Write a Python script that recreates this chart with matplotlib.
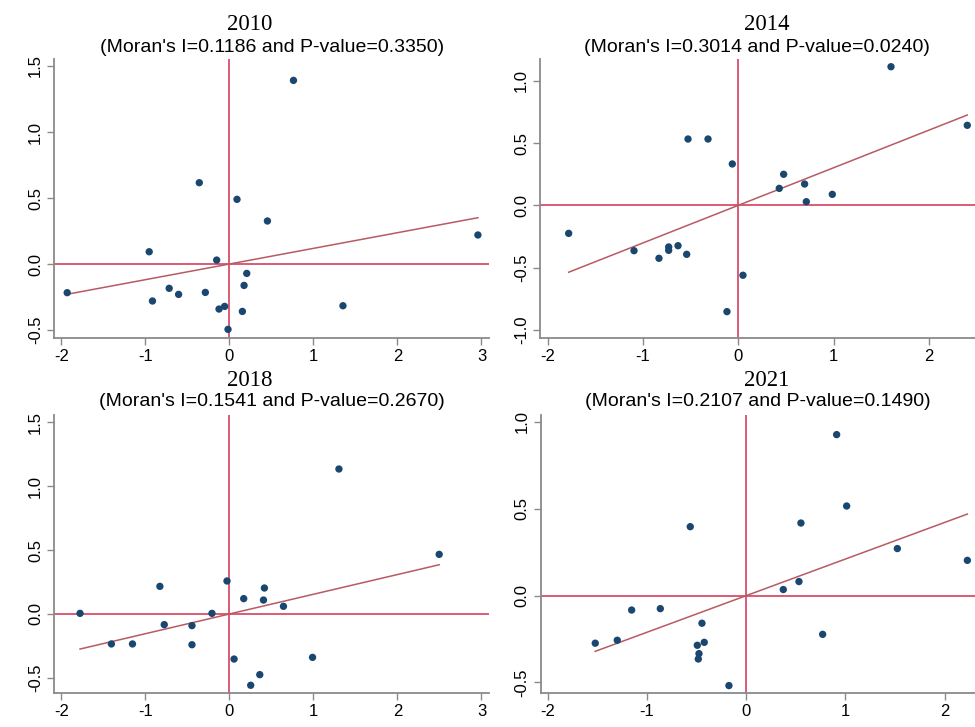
import numpy as np
import matplotlib.pyplot as plt

# --- data (standardised value vs spatial lag) ---
years = ['2010', '2014', '2018', '2021']
moran_i = [0.1186, 0.3014, 0.1541, 0.2107]
p_values = [0.3350, 0.0240, 0.2670, 0.1490]

x_2010 = [-1.93, -0.954, -0.915, -0.716, -0.604, -0.358, -0.286, -0.151, -0.123, -0.056,
          -0.016, 0.091, 0.155, 0.175, 0.207, 0.453, 0.763, 1.352, 2.958]
y_2010 = [-0.217, 0.093, -0.28, -0.184, -0.23, 0.616, -0.215, 0.03, -0.341, -0.321,
          -0.495, 0.49, -0.359, -0.162, -0.071, 0.326, 1.391, -0.316, 0.22]

x_2014 = [-1.781, -1.095, -0.833, -0.731, -0.731, -0.633, -0.542, -0.528, -0.318, -0.119,
          -0.063, 0.049, 0.430, 0.476, 0.696, 0.714, 0.987, 1.603, 2.404]
y_2014 = [-0.225, -0.364, -0.425, -0.334, -0.361, -0.324, -0.393, 0.532, 0.532, -0.853,
          0.332, -0.561, 0.136, 0.249, 0.171, 0.029, 0.088, 1.112, 0.642]

x_2018 = [-1.777, -1.404, -1.153, -0.827, -0.775, -0.445, -0.445, -0.207, -0.028, 0.056,
          0.171, 0.254, 0.362, 0.406, 0.417, 0.644, 0.990, 1.304, 2.497]
y_2018 = [0.005, -0.234, -0.234, 0.216, -0.083, -0.091, -0.240, 0.005, 0.258, -0.352,
          0.120, -0.557, -0.474, 0.109, 0.203, 0.060, -0.339, 1.133, 0.466]

x_2021 = [-1.523, -1.301, -1.156, -0.867, -0.565, -0.494, -0.477, -0.484, -0.447, -0.424,
          -0.175, 0.373, 0.531, 0.551, 0.770, 0.911, 1.012, 1.523, 2.229]
y_2021 = [-0.274, -0.257, -0.083, -0.075, 0.397, -0.286, -0.334, -0.365, -0.159, -0.269,
          -0.518, 0.035, 0.081, 0.418, -0.223, 0.927, 0.516, 0.271, 0.203]

xs = [x_2010, x_2014, x_2018, x_2021]
ys = [y_2010, y_2014, y_2018, y_2021]

xticks = [[-2, -1, 0, 1, 2, 3], [-2, -1, 0, 1, 2], [-2, -1, 0, 1, 2, 3], [-2, -1, 0, 1, 2]]
yticks = [[-0.5, 0.0, 0.5, 1.0, 1.5], [-1.0, -0.5, 0.0, 0.5, 1.0],
          [-0.5, 0.0, 0.5, 1.0, 1.5], [-0.5, 0.0, 0.5, 1.0]]
xlims = [(-2.087, 3.09), (-2.082, 2.485), (-2.087, 3.09), (-2.073, 2.306)]
ylims = [(-0.558, 1.553), (-1.062, 1.174), (-0.615, 1.555), (-0.559, 1.040)]

# --- layout in pixels (left, top, right, bottom) ---
W, H = 975, 727
boxes = [(54, 59, 489, 337.7), (540, 59, 975, 337.7),
         (54, 415, 489, 692.7), (540.7, 415, 975, 692.7)]
title_pos = [(250, 24), (767, 24), (250, 380), (767, 380)]
sub_pos = [(272, 47), (757, 47), (272, 402), (758, 402)]

navy = '#1a476f'
crimson = '#d5405e'
fitc = '#b85a62'
gray = '#8a8a8a'

fig = plt.figure(figsize=(W / 100, H / 100), dpi=100)

for k in range(4):
    l, t, r, b = boxes[k]
    ax = fig.add_axes([l / W, 1 - b / H, (r - l) / W, (b - t) / H])
    x = np.array(xs[k])
    y = np.array(ys[k])
    ax.axhline(0, color=crimson, lw=1.2, zorder=1)
    ax.axvline(0, color=crimson, lw=1.2, zorder=1)
    xl = np.array([x.min(), x.max()])
    ax.plot(xl, moran_i[k] * xl, color=fitc, lw=1.1, zorder=2)
    ax.scatter(x, y, s=28, color=navy, edgecolors='none', zorder=3)
    ax.set_xlim(xlims[k])
    ax.set_ylim(ylims[k])
    ax.set_xticks(xticks[k])
    ax.set_xticklabels([str(v) for v in xticks[k]])
    ax.set_yticks(yticks[k])
    ax.set_yticklabels([f'{v:.1f}' for v in yticks[k]], rotation=90, va='center')
    for s in ['top', 'right']:
        ax.spines[s].set_visible(False)
    for s in ['left', 'bottom']:
        ax.spines[s].set_color(gray)
        ax.spines[s].set_linewidth(1.3)
    ax.tick_params(direction='out', length=5, width=1, color=gray,
                   labelsize=12, labelcolor='black', pad=3)
    for lab in ax.get_xticklabels() + ax.get_yticklabels():
        lab.set_fontfamily('Liberation Sans')

    tx, ty = title_pos[k]
    fig.text(tx / W, 1 - ty / H, years[k], ha='center', va='center',
             fontsize=16.5, family='Liberation Serif')
    sx, sy = sub_pos[k]
    fig.text(sx / W, 1 - sy / H,
             f"(Moran's I={moran_i[k]:.4f} and P-value={p_values[k]:.4f})",
             ha='center', va='center', fontsize=14, family='Liberation Sans')

fig.savefig('out.png', dpi=100)
